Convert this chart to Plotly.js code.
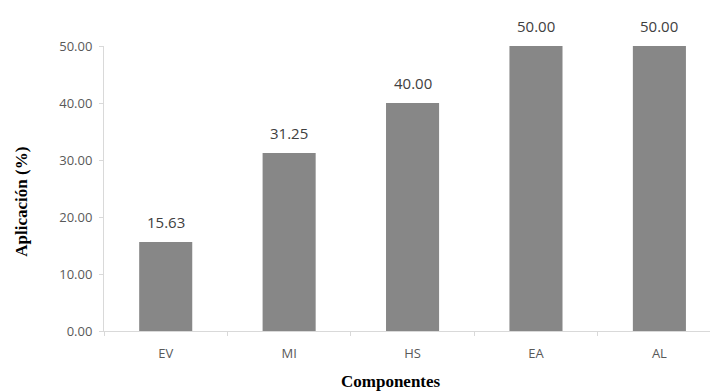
<!DOCTYPE html>
<html>
<head>
<meta charset="utf-8">
<script src="https://cdn.plot.ly/plotly-3.0.1.min.js"></script>
<style>
  html, body { margin: 0; padding: 0; background: #fff; }
  #chart { width: 710px; height: 391px; }
</style>
</head>
<body>
<div id="chart"></div>
<script>
// Application percentage per component
const componentes = ['EV', 'MI', 'HS', 'EA', 'AL'];
const aplicacion = [15.63, 31.25, 40.00, 50.00, 50.00];
const yTicks = [0, 10, 20, 30, 40, 50];

const labelFont = { family: 'Open Sans, sans-serif', size: 15, color: '#404040' };

const trace = {
  type: 'bar',
  x: componentes,
  y: aplicacion,
  marker: { color: '#878787', line: { width: 0 } },
  hoverinfo: 'x+y'
};

// Value labels above each bar
const valueLabels = componentes.map((c, i) => ({
  x: c,
  y: aplicacion[i],
  xref: 'x',
  yref: 'y',
  text: aplicacion[i].toFixed(2),
  showarrow: false,
  yanchor: 'middle',
  yshift: 20,
  font: labelFont
}));

const titles = [
  {
    text: '<b>Componentes</b>',
    xref: 'paper', yref: 'paper',
    x: (391 - 104) / 606, y: 0,
    xanchor: 'center', yanchor: 'middle',
    yshift: -50,
    showarrow: false,
    font: { family: 'Liberation Serif, Times New Roman, serif', size: 17, color: '#000' }
  },
  {
    text: '<b>Aplicación (%)</b>',
    xref: 'paper', yref: 'paper',
    x: 0, y: (331.5 - 202) / 285.5,
    xanchor: 'center', yanchor: 'middle',
    xshift: -82,
    textangle: -90,
    showarrow: false,
    font: { family: 'Liberation Serif, Times New Roman, serif', size: 17, color: '#000' }
  }
];

const layout = {
  width: 710,
  height: 391,
  margin: { l: 104, r: 0, t: 46, b: 59.5, pad: 0 },
  paper_bgcolor: '#ffffff',
  plot_bgcolor: '#ffffff',
  showlegend: false,
  bargap: 0.57,
  font: { family: 'Open Sans, sans-serif', color: '#595959', size: 13 },
  xaxis: {
    type: 'category',
    range: [-0.5, 4.41],
    showgrid: false,
    zeroline: false,
    showline: true,
    linecolor: '#d9d9d9',
    linewidth: 1,
    ticks: 'outside',
    tickson: 'boundaries',
    ticklen: 4,
    tickcolor: '#d9d9d9',
    ticklabelstandoff: 10,
    tickfont: { family: 'Open Sans, sans-serif', size: 13, color: '#595959' },
    fixedrange: true
  },
  yaxis: {
    range: [0, 50],
    tickvals: yTicks,
    ticktext: yTicks.map(v => v.toFixed(2)),
    showgrid: false,
    zeroline: false,
    showline: true,
    linecolor: '#d9d9d9',
    linewidth: 1,
    ticks: 'outside',
    ticklen: 4,
    tickcolor: '#d9d9d9',
    ticklabelstandoff: 4,
    tickfont: { family: 'Open Sans, sans-serif', size: 13, color: '#595959' },
    fixedrange: true
  },
  annotations: valueLabels.concat(titles)
};

Plotly.newPlot('chart', [trace], layout, { displayModeBar: false, staticPlot: true });
</script>
</body>
</html>
